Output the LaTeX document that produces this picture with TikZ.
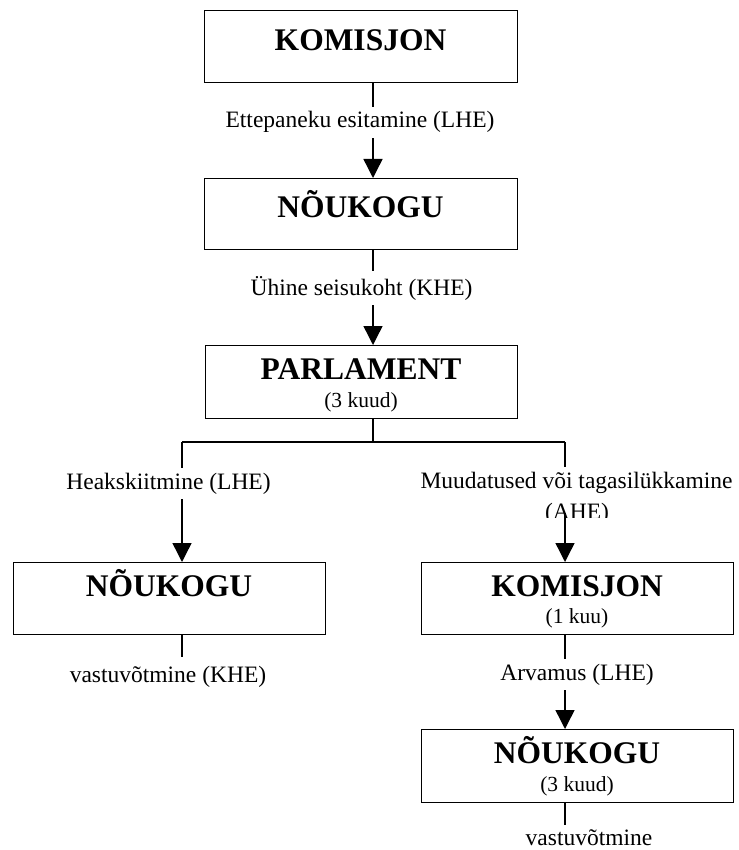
\documentclass[tikz,border=0pt]{standalone}
\usepackage{fontspec}
\setmainfont{Liberation Serif}
\usetikzlibrary{arrows.meta}
\begin{document}
\begin{tikzpicture}[x=1pt,y=-1pt,
  box/.style={draw,line width=1.4pt,minimum width=313pt,minimum height=72pt,inner sep=0pt,anchor=north west},
  title/.style={font=\fontsize{31.5}{31.5}\selectfont\bfseries,anchor=base,inner sep=0pt},
  subt/.style={font=\fontsize{21.5}{21.5}\selectfont,anchor=base,inner sep=0pt},
  lbl/.style={font=\fontsize{23.5}{23.5}\selectfont,anchor=base,fill=white,inner xsep=1pt,inner ysep=5pt},
  plain/.style={font=\fontsize{23.5}{23.5}\selectfont,anchor=base,inner sep=0pt},
  conn/.style={line width=1.4pt},
  arr/.style={conn,-{Triangle[width=19pt,length=19pt]}}]
\useasboundingbox (0,0) rectangle (738,850);
% line positions
\coordinate (cx) at (373,0);
\coordinate (lx) at (182,0);
\coordinate (rx) at (565,0);
\coordinate (br) at (373,442);
% boxes
\node[box,minimum height=72pt] (k1) at (204,10) {};
\node[box,minimum height=71pt] (n1) at (204,178) {};
\node[box,minimum width=312pt,minimum height=73pt] (p) at (205,345) {};
\node[box,minimum width=312pt] (n2) at (13,562) {};
\node[box,minimum width=312pt] (k2) at (421,562) {};
\node[box,minimum width=312pt,minimum height=73pt] (n3) at (421,729) {};
% box texts
\node[title] (tk1) at (360.5,50.5) {KOMISJON};
\node[title] (tn1) at (360.5,218) {NÕUKOGU};
\node[title] (tp) at (361,379) {PARLAMENT};
\node[subt] (sp) at (361,407) {(3 kuud)};
\node[title] (tn2) at (169,596.5) {NÕUKOGU};
\node[title] (tk2) at (577,596) {KOMISJON};
\node[subt] (sk2) at (577,623) {(1 kuu)};
\node[title] (tn3) at (577,763) {NÕUKOGU};
\node[subt] (sn3) at (577,791) {(3 kuud)};
% connectors
\draw[arr] (k1.south -| cx) -- (n1.north -| cx);
\draw[arr] (n1.south -| cx) -- (p.north -| cx);
\draw[conn] (p.south -| cx) -- (br);
\draw[conn] (lx |- br) -- (rx |- br);
\draw[arr] (lx |- br) -- (n2.north -| lx);
\draw[arr] (rx |- br) -- (k2.north -| rx);
\draw[arr] (k2.south -| rx) -- (n3.north -| rx);
% labels
\node[lbl] (l1) at (360,128) {Ettepaneku esitamine (LHE)};
\node[lbl] (l2) at (361.5,295) {Ühine seisukoht (KHE)};
\node[lbl] (l3) at (168.5,489) {Heakskiitmine (LHE)};
\node[lbl] (l4) at (576.5,488) {Muudatused või tagasilükkamine};
\fill[white] (l4.south west) rectangle (l4.east |- 0,513);
\begin{scope}
\clip (400,490) rectangle (738,517);
\node[plain] (l4b) at (577,519) {(AHE)};
\end{scope}
\node[lbl] (l6) at (577,680) {Arvamus (LHE)};
\node[plain] (l5) at (168,682) {vastuvõtmine (KHE)};
\node[plain] (l7) at (589,845) {vastuvõtmine};
\draw[conn] (n2.south -| lx) -- (lx |- 0,657);
\draw[conn] (n3.south -| rx) -- (rx |- 0,825);
\end{tikzpicture}
\end{document}
